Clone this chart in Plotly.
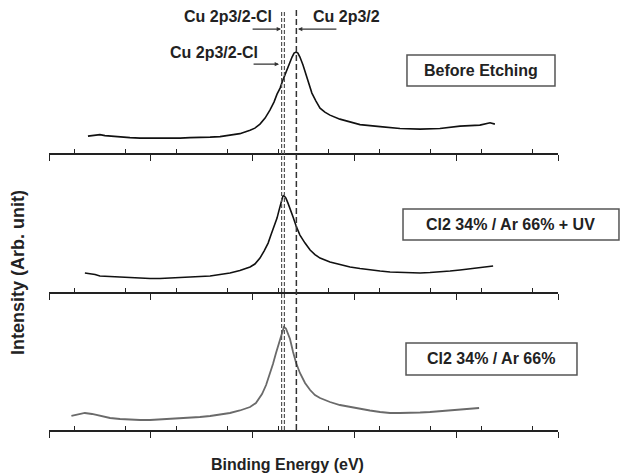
import plotly.graph_objects as go

# ---- data (binding energy in eV, intensity in arbitrary units) ----
be_before = [943.47, 943.19, 943.00, 942.80, 942.60, 942.21, 941.82, 941.42, 941.03, 940.64,
             940.25, 939.85, 939.46, 939.07, 938.67, 938.28, 937.89, 937.50, 937.10, 936.91,
             936.71, 936.51, 936.32, 936.16, 936.04, 935.92, 935.81, 935.69, 935.57, 935.45,
             935.37, 935.29, 935.22, 935.14, 935.02, 934.94, 934.82, 934.67, 934.51, 934.35,
             934.16, 933.96, 933.57, 933.17, 932.78, 931.99, 931.21, 930.42, 929.64, 928.85,
             928.07, 927.67, 927.48]
int_before = [17.0, 18.0, 18.5, 17.5, 17.0, 16.0, 15.5, 15.0, 15.0, 14.5,
              15.0, 15.0, 15.5, 15.5, 16.0, 16.5, 18.0, 19.5, 23.0, 25.0,
              29.0, 35.0, 43.0, 51.0, 59.0, 65.0, 73.0, 81.0, 89.0, 96.0,
              100.0, 101.0, 100.0, 96.0, 88.0, 81.0, 71.0, 60.0, 52.0, 45.0,
              41.0, 38.0, 34.0, 31.0, 28.5, 26.5, 24.7, 24.0, 24.7, 27.0,
              28.0, 30.3, 29.0]

be_uv = [943.59, 943.19, 943.00, 942.60, 942.21, 941.82, 941.42, 941.03, 940.64, 940.25,
         939.85, 939.46, 939.07, 938.67, 938.28, 937.89, 937.50, 937.10, 936.91, 936.71,
         936.55, 936.39, 936.28, 936.16, 936.04, 935.96, 935.88, 935.81, 935.77, 935.69,
         935.61, 935.53, 935.41, 935.29, 935.14, 934.94, 934.74, 934.55, 934.35, 933.96,
         933.57, 933.17, 932.78, 932.39, 931.99, 931.60, 931.21, 930.82, 930.42, 930.03,
         929.64, 929.24, 928.85, 928.46, 928.07, 927.55]
int_uv = [19.0, 17.5, 16.0, 15.5, 14.5, 14.0, 13.5, 13.5, 13.5, 14.0,
          14.0, 14.5, 15.0, 16.0, 17.5, 19.0, 21.5, 25.0, 28.0, 34.0,
          41.0, 49.0, 57.0, 65.0, 74.0, 82.0, 89.0, 96.0, 96.5, 94.0,
          89.0, 84.0, 75.0, 66.0, 57.0, 49.0, 42.0, 37.5, 34.0, 30.0,
          27.5, 25.0, 23.5, 22.0, 21.0, 20.0, 19.5, 19.0, 19.0, 19.5,
          20.0, 21.0, 22.0, 23.0, 24.0, 26.0]

be_cl = [944.12, 943.86, 943.59, 943.31, 943.00, 942.60, 942.21, 941.90, 941.42, 941.03,
         940.64, 940.25, 939.81, 939.46, 939.07, 938.67, 938.28, 937.89, 937.50, 937.10,
         936.87, 936.63, 936.47, 936.32, 936.20, 936.08, 935.96, 935.88, 935.81, 935.77,
         935.69, 935.61, 935.53, 935.41, 935.29, 935.14, 934.94, 934.74, 934.55, 934.35,
         933.96, 933.57, 933.17, 932.78, 932.39, 931.99, 931.60, 931.21, 930.82, 930.42,
         930.03, 929.44, 928.85, 928.46, 928.10]
int_cl = [14.0, 15.5, 17.0, 16.0, 14.0, 12.0, 11.0, 10.5, 10.0, 10.0,
          10.5, 11.0, 12.0, 12.5, 13.0, 14.0, 15.5, 17.0, 19.5, 23.0,
          27.0, 36.0, 45.0, 56.0, 66.0, 77.0, 88.0, 95.0, 101.0, 103.0,
          101.5, 97.0, 91.0, 78.0, 67.0, 57.0, 47.0, 40.0, 35.0, 32.0,
          28.0, 25.0, 23.0, 21.0, 19.5, 18.0, 17.0, 17.0, 17.0, 17.5,
          18.0, 19.0, 20.0, 21.0, 22.0]

ref_lines = [935.86, 935.75, 935.28]   # Cu 2p3/2-Cl (double), Cu 2p3/2
panel_labels = ["Before Etching", "Cl2 34% / Ar 66% + UV", "Cl2 34% / Ar 66%"]

FONT = "Liberation Sans, Arial, sans-serif"
INK = "#222222"

fig = go.Figure()
fig.add_trace(go.Scatter(x=be_before, y=int_before, mode="lines", xaxis="x", yaxis="y",
                         line=dict(color="#111111", width=1.6), showlegend=False))
fig.add_trace(go.Scatter(x=be_uv, y=int_uv, mode="lines", xaxis="x2", yaxis="y2",
                         line=dict(color="#111111", width=1.6), showlegend=False))
fig.add_trace(go.Scatter(x=be_cl, y=int_cl, mode="lines", xaxis="x3", yaxis="y3",
                         line=dict(color="#6a6a6a", width=1.8), showlegend=False))

xax = dict(range=[945, 925], showline=True, linecolor=INK, linewidth=1.5,
           ticks="outside", ticklen=6, tickwidth=1.2, tickcolor=INK,
           tick0=945, dtick=4, showticklabels=False, showgrid=False, zeroline=False,
           minor=dict(dtick=2, ticks="inside", ticklen=4, tickwidth=1.2, tickcolor=INK, showgrid=False),
           fixedrange=True)
yax = dict(visible=False, fixedrange=True, showgrid=False, zeroline=False)

fig.update_layout(
    width=623, height=475,
    margin=dict(l=49, r=65, t=8, b=45),
    paper_bgcolor="white", plot_bgcolor="white",
    font=dict(family=FONT, color=INK, size=16),
    xaxis=dict(**xax, anchor="y"),
    xaxis2=dict(**xax, anchor="y2", matches="x"),
    xaxis3=dict(**xax, anchor="y3", matches="x"),
    yaxis=dict(**yax, domain=[0.656, 1.0], range=[0, 145]),
    yaxis2=dict(**yax, domain=[0.327, 0.656], range=[0, 139]),
    yaxis3=dict(**yax, domain=[0.0, 0.327], range=[0, 138]),
)

# dashed reference lines
shapes = []
for i, xv in enumerate(ref_lines):
    single = (i == 2)
    shapes.append(dict(type="line", xref="x", yref="paper", x0=xv, x1=xv, y0=0, y1=0.995,
                       line=dict(color="#333333" if single else "#555555",
                                 width=1.5 if single else 1.2,
                                 dash="6px,3px" if single else "4px,2px")))
# label boxes
boxes = [(0.7033, 0.9941, 0.8152, 0.8886), (0.6955, 1.1198, 0.4502, 0.5237), (0.7014, 1.0373, 0.1303, 0.2062)]
for (x0, x1, y0, y1) in boxes:
    shapes.append(dict(type="rect", xref="paper", yref="paper", x0=x0, x1=x1, y0=y0, y1=y1,
                       line=dict(color="#555555", width=1.5), fillcolor="rgba(0,0,0,0)"))
fig.update_layout(shapes=shapes)

ann = []
for lbl, (x0, x1, y0, y1) in zip(panel_labels, boxes):
    ann.append(dict(text="<b>%s</b>" % lbl, xref="paper", yref="paper", x=(x0 + x1) / 2, y=(y0 + y1) / 2,
                    showarrow=False, xanchor="center", yanchor="middle", font=dict(size=16)))
# peak labels
ann.append(dict(text="<b>Cu 2p3/2-Cl</b>", xref="paper", yref="paper", x=0.3507, y=0.9787,
                showarrow=False, xanchor="center", yanchor="middle", font=dict(size=16)))
ann.append(dict(text="<b>Cu 2p3/2</b>", xref="paper", yref="paper", x=0.5835, y=0.9787,
                showarrow=False, xanchor="center", yanchor="middle", font=dict(size=16)))
ann.append(dict(text="<b>Cu 2p3/2-Cl</b>", xref="paper", yref="paper", x=0.324, y=0.8957,
                showarrow=False, xanchor="center", yanchor="middle", font=dict(size=16)))
# arrows
for (xv, yv, axo) in [(935.88, 0.950, -30), (935.22, 0.950, 40), (935.96, 0.867, -27)]:
    ann.append(dict(text="", xref="x", yref="paper", x=xv, y=yv, ax=axo, ay=0,
                    showarrow=True, arrowhead=2, arrowsize=0.8, arrowwidth=1.1, arrowcolor="#333333",
                    standoff=0))
# axis titles
ann.append(dict(text="<b>Binding Energy (eV)</b>", xref="paper", yref="paper", x=0.4695, y=-0.0806,
                showarrow=False, xanchor="center", yanchor="middle", font=dict(size=16)))
ann.append(dict(text="<b>Intensity (Arb. unit)</b>", xref="paper", yref="paper", x=-0.0609, y=0.372,
                showarrow=False, xanchor="center", yanchor="middle", textangle=-90, font=dict(size=18)))
fig.update_layout(annotations=ann)

fig.write_html("out.html", config={"displayModeBar": False},
               post_script="document.body.style.margin='0';document.body.style.padding='0';")
